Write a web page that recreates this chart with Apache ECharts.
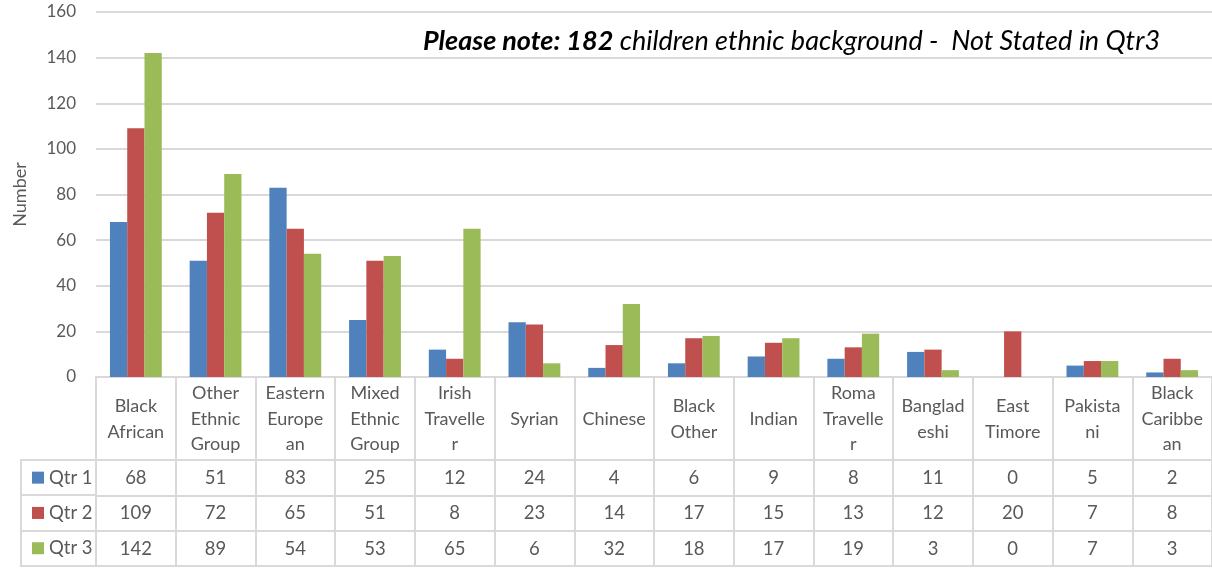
<!DOCTYPE html>
<html><head><meta charset="utf-8">
<script src="https://cdn.jsdelivr.net/npm/echarts@6/dist/echarts.min.js"></script>
<style>html,body{margin:0;padding:0;background:#fff}#c{width:1212px;height:570px}</style>
</head><body><div id="c"></div>
<script>
var categories = ["Black\nAfrican","Other\nEthnic\nGroup","Eastern\nEurope\nan","Mixed\nEthnic\nGroup","Irish\nTravelle\nr","Syrian","Chinese","Black\nOther","Indian","Roma\nTravelle\nr","Banglad\neshi","East\nTimore","Pakista\nni","Black\nCaribbe\nan"];
var seriesNames = ["Qtr 1","Qtr 2","Qtr 3"];
var qtr1 = [68,51,83,25,12,24,4,6,9,8,11,0,5,2];
var qtr2 = [109,72,65,51,8,23,14,17,15,13,12,20,7,8];
var qtr3 = [142,89,54,53,65,6,32,18,17,19,3,0,7,3];
var yTicks = {min:0, max:160, interval:20};
var noteBold = "Please note: 182";
var noteRest = " children ethnic background -  Not Stated in Qtr3";

var colors = ['#4F81BD','#C0504D','#9BBB59'];
var FONT = 'Lato, "Open Sans", sans-serif';
var TXT = '#595959';
var LINE = '#D9D9D9';
var LW = 2;
var gridLeft = 96, gridTop = 12, axisY = 377;
var rowTop = 460, rowH = 35.3;
var rows = [qtr1, qtr2, qtr3];

var chart = echarts.init(document.getElementById('c'), null, {renderer:'canvas'});

var xAxes = [{
  type:'category', data:categories, gridIndex:0, position:'bottom',
  axisLine:{show:true, lineStyle:{color:LINE, width:LW}},
  axisTick:{show:true, interval:0, length:566-axisY, lineStyle:{color:LINE, width:LW}},
  axisLabel:{interval:0, color:TXT, fontFamily:FONT, fontSize:18, lineHeight:25.5, verticalAlign:'middle', margin:42},
  splitLine:{show:false}
}];
rows.forEach(function(arr, r){
  xAxes.push({
    type:'category', data:categories, gridIndex:0, position:'bottom',
    offset: (rowTop - axisY) + r*rowH,
    axisLine:{show:true, lineStyle:{color:LINE, width:LW}},
    axisTick:{show:false},
    axisLabel:{interval:0, color:TXT, fontFamily:FONT, fontSize:18.5, verticalAlign:'middle', margin:rowH/2 + 0.5,
      formatter:(function(a){return function(v, i){return String(a[i]);};})(arr)}
  });
});
xAxes.push({
  type:'category', data:categories, gridIndex:0, position:'bottom',
  offset:(rowTop - axisY) + 3*rowH,
  axisLine:{show:true, lineStyle:{color:LINE, width:LW}},
  axisTick:{show:false}, axisLabel:{show:false}
});

var series = rows.map(function(arr, i){
  return {name:seriesNames[i], type:'bar', data:arr, xAxisIndex:0, yAxisIndex:0,
    itemStyle:{color:colors[i]}, barGap:'0%', barCategoryGap:'35%'};
});

var graphics = [];
for (var k=0;k<4;k++){
  var y = Math.round(rowTop + k*rowH);
  graphics.push({type:'line', shape:{x1:20, y1:y, x2:gridLeft, y2:y}, style:{stroke:LINE, lineWidth:LW}, silent:true});
}
graphics.push({type:'line', shape:{x1:21, y1:rowTop-1, x2:21, y2:rowTop+3*rowH+1}, style:{stroke:LINE, lineWidth:LW}, silent:true});

chart.setOption({
  animation:false,
  color:colors,
  grid:{left:gridLeft, right:0, top:gridTop, bottom:570-axisY, containLabel:false},
  title:{
    text:'{b|'+noteBold+'}{i|'+noteRest+'}',
    left:418, top:23,
    textStyle:{fontWeight:'normal', rich:{
      b:{fontFamily:FONT, fontSize:27, fontWeight:'bold', fontStyle:'italic', color:'#000'},
      i:{fontFamily:FONT, fontSize:27, fontWeight:'normal', fontStyle:'italic', color:'#000'}
    }}
  },
  legend:{
    orient:'vertical', left:27, top:rowTop + (rowH-20)/2 - 5, itemGap:rowH-20,
    icon:'rect', itemWidth:12, itemHeight:12, itemStyle:{borderWidth:0},
    textStyle:{color:TXT, fontFamily:FONT, fontSize:18.5, lineHeight:20},
    data:seriesNames, selectedMode:false
  },
  xAxis:xAxes,
  yAxis:{
    type:'value', min:yTicks.min, max:yTicks.max, interval:yTicks.interval,
    name:'Number', nameLocation:'middle', nameGap:67, nameRotate:90,
    nameTextStyle:{color:TXT, fontFamily:FONT, fontSize:18},
    axisLine:{show:false}, axisTick:{show:false},
    axisLabel:{color:TXT, fontFamily:FONT, fontSize:17, margin:20},
    splitLine:{lineStyle:{color:LINE, width:LW}}
  },
  series:series,
  graphic:graphics
});
</script></body></html>
